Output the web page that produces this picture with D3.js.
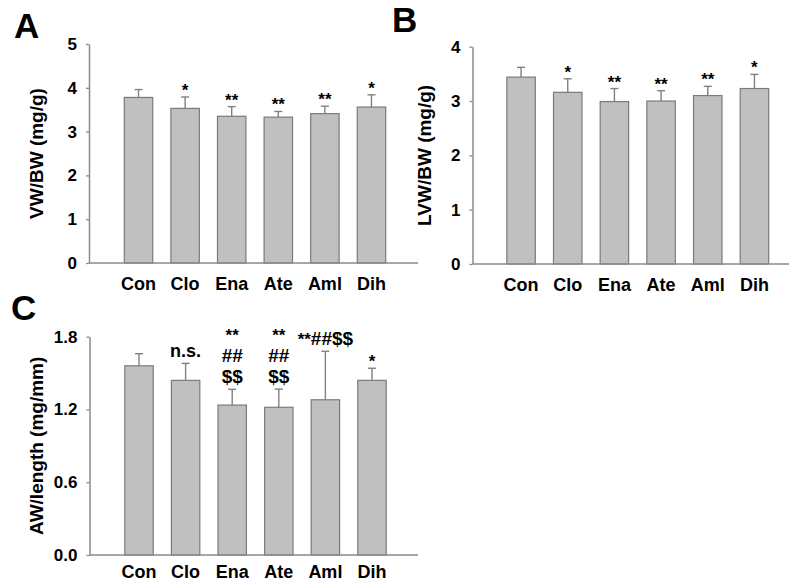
<!DOCTYPE html>
<html>
<head>
<meta charset="utf-8">
<script src="https://cdn.jsdelivr.net/npm/d3@7"></script>
<style>
  body { margin: 0; background: #fff; }
  svg { display: block; font-family: 'Liberation Sans', Arial, sans-serif; }
</style>
</head>
<body>
<div id="chart"></div>
<script>
const groups = ['Con', 'Clo', 'Ena', 'Ate', 'Aml', 'Dih']

// panel A: VW/BW
const vwbwMean = [3.78, 3.53, 3.35, 3.33, 3.41, 3.56]
const vwbwErr = [0.18, 0.26, 0.22, 0.13, 0.17, 0.28]
const vwbwMarks = [[], ['*'], ['**'], ['**'], ['**'], ['*']]
const vwbwTicks = [0, 1, 2, 3, 4, 5]

// panel B: LVW/BW
const lvwbwMean = [3.44, 3.16, 2.99, 3.0, 3.1, 3.23]
const lvwbwErr = [0.18, 0.25, 0.24, 0.19, 0.17, 0.26]
const lvwbwMarks = [[], ['*'], ['**'], ['**'], ['**'], ['*']]
const lvwbwTicks = [0, 1, 2, 3, 4]

// panel C: AW/length
const awlMean = [1.56, 1.44, 1.236, 1.218, 1.28, 1.44]
const awlErr = [0.1, 0.14, 0.13, 0.15, 0.4, 0.1]
const awlMarks = [[], ['n.s.'], ['$$', '##', '**'], ['$$', '##', '**'], ['**##$$'], ['*']]
const awlTicks = [0, 0.6, 1.2, 1.8]

const W = 789, H = 586
const svg = d3.select('#chart').append('svg').attr('width', W).attr('height', H)

const panels = [
  { letter: 'A', lx: 14, ly: 38, mean: vwbwMean, err: vwbwErr, marks: vwbwMarks, ticks: vwbwTicks,
    fmt: d3.format('d'), title: 'VW/BW (mg/g)', titleX: 36,
    x0: 89, xEnd: 418, yTop: 44, yBot: 263, band: [115, 395], labelY: 290 },
  { letter: 'B', lx: 392, ly: 32, mean: lvwbwMean, err: lvwbwErr, marks: lvwbwMarks, ticks: lvwbwTicks,
    fmt: d3.format('d'), title: 'LVW/BW (mg/g)', titleX: 424,
    x0: 472.5, xEnd: 789, yTop: 46.7, yBot: 264, band: [497.5, 778], labelY: 291 },
  { letter: 'C', lx: 11, ly: 320, mean: awlMean, err: awlErr, marks: awlMarks, ticks: awlTicks,
    fmt: d3.format('.1f'), title: 'AW/length (mg/mm)', titleX: 36,
    x0: 89.5, xEnd: 418, yTop: 336.7, yBot: 555, band: [115.5, 395.5], labelY: 578 }
]

panels.forEach(p => {
  const g = svg.append('g')
  const yMax = p.ticks[p.ticks.length - 1]

  const x = d3.scaleBand()
    .domain(groups)
    .range(p.band)
    .paddingInner(0.39)
    .paddingOuter(0.2)

  const y = d3.scaleLinear()
    .domain([0, yMax])
    .range([p.yBot, p.yTop])

  // panel letter
  g.append('text')
    .attr('x', p.lx)
    .attr('y', p.ly)
    .style('font-size', '35px')
    .style('font-weight', 'bold')
    .text(p.letter)

  // bars
  g.selectAll('rect.bar')
    .data(p.mean)
    .enter()
    .append('rect')
    .attr('x', (d, i) => x(groups[i]))
    .attr('y', d => y(d))
    .attr('width', x.bandwidth())
    .attr('height', d => y(0) - y(d))
    .attr('fill', '#c0c0c0')
    .attr('stroke', '#7a7a7a')
    .attr('stroke-width', 1.2)

  // error bars (upper only)
  const eb = g.selectAll('g.err')
    .data(p.mean)
    .enter()
    .append('g')
    .attr('stroke', '#808080')
    .attr('stroke-width', 1.4)
  eb.append('line')
    .attr('x1', (d, i) => x(groups[i]) + x.bandwidth() / 2)
    .attr('x2', (d, i) => x(groups[i]) + x.bandwidth() / 2)
    .attr('y1', d => y(d))
    .attr('y2', (d, i) => y(d + p.err[i]))
  eb.append('line')
    .attr('x1', (d, i) => x(groups[i]) + x.bandwidth() / 2 - 4)
    .attr('x2', (d, i) => x(groups[i]) + x.bandwidth() / 2 + 4)
    .attr('y1', (d, i) => y(d + p.err[i]))
    .attr('y2', (d, i) => y(d + p.err[i]))

  // significance marks
  p.marks.forEach((lines, i) => {
    const cx = x(groups[i]) + x.bandwidth() / 2
    const top = y(p.mean[i] + p.err[i])
    lines.forEach((line, j) => {
      const onlyStars = /^\*+$/.test(line)
      const t = g.append('text')
        .attr('x', cx)
        .attr('y', top - (onlyStars && lines.length === 1 ? 1 : 6) - j * 21)
        .attr('text-anchor', 'middle')
        .attr('fill', '#000')
        .style('font-weight', 'bold')
      if (onlyStars) {
        t.style('font-size', '17px').text(line)
      } else {
        line.match(/\*+|[^*]+/g).forEach(part => {
          t.append('tspan')
            .style('font-size', part[0] === '*' ? '17px' : (part === 'n.s.' ? '18px' : '19px'))
            .text(part)
        })
      }
    })
  })

  // y axis
  const yAxis = g.append('g')
    .attr('transform', `translate(${p.x0},0)`)
    .call(d3.axisLeft(y).tickValues(p.ticks).tickFormat(p.fmt).tickSize(3).tickSizeOuter(0).tickPadding(9))
  yAxis.select('.domain').attr('stroke', '#8a8a8a').attr('stroke-width', 1.5)
  yAxis.selectAll('.tick line').attr('stroke', '#8a8a8a').attr('stroke-width', 1.3)
  yAxis.selectAll('.tick text')
    .attr('fill', '#000')
    .style('font-size', '17px')
    .style('font-weight', 'bold')
    .style('font-family', "'Liberation Sans', Arial, sans-serif")

  // x axis baseline
  g.append('line')
    .attr('x1', p.x0)
    .attr('x2', p.xEnd)
    .attr('y1', y(0))
    .attr('y2', y(0))
    .attr('stroke', '#8a8a8a')
    .attr('stroke-width', 1.5)

  // category labels
  g.selectAll('text.cat')
    .data(groups)
    .enter()
    .append('text')
    .attr('x', d => x(d) + x.bandwidth() / 2)
    .attr('y', p.labelY)
    .attr('text-anchor', 'middle')
    .style('font-size', '18px')
    .style('font-weight', 'bold')
    .text(d => d)

  // axis title
  g.append('text')
    .attr('transform', `translate(${p.titleX},${(p.yTop + p.yBot) / 2}) rotate(-90)`)
    .attr('text-anchor', 'middle')
    .attr('dy', '0.35em')
    .style('font-size', '19px')
    .style('font-weight', 'bold')
    .text(p.title)
})
</script>
</body>
</html>
